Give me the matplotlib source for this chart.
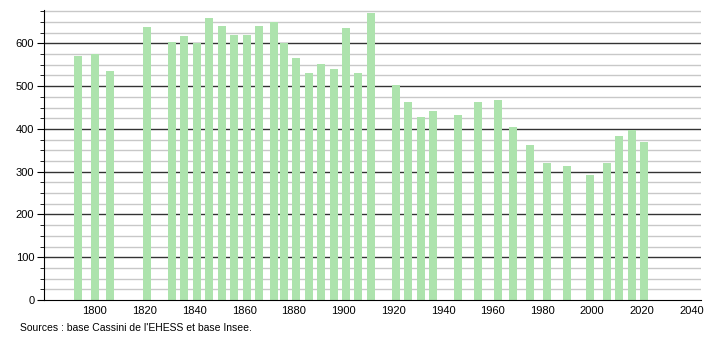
import matplotlib
matplotlib.use("Agg")
import matplotlib.pyplot as plt
from matplotlib.ticker import MultipleLocator

years = [1793, 1800, 1806, 1821, 1831, 1836, 1841, 1846, 1851, 1856, 1861, 1866,
         1872, 1876, 1881, 1886, 1891, 1896, 1901, 1906, 1911, 1921, 1926, 1931,
         1936, 1946, 1954, 1962, 1968, 1975, 1982, 1990, 1999, 2006, 2011, 2016, 2021]
population = [570, 576, 535, 638, 603, 617, 601, 659, 640, 620, 620, 640,
              651, 600, 566, 531, 552, 540, 636, 531, 672, 502, 463, 428,
              442, 432, 463, 468, 404, 362, 320, 313, 292, 320, 383, 397, 369]
xticks = [1800, 1820, 1840, 1860, 1880, 1900, 1920, 1940, 1960, 1980, 2000, 2020, 2040]
yticks = [0, 100, 200, 300, 400, 500, 600]
source = "Sources : base Cassini de l'EHESS et base Insee."

plt.rcParams['font.family'] = ['Liberation Sans', 'DejaVu Sans']

fig = plt.figure(figsize=(7.1, 3.4), dpi=100)
ax = fig.add_axes([44/710, 40/340, (701-44)/710, (300-10)/340])

ax.set_xlim(1779.5, 2043.8)
ax.set_ylim(0, 678)

# gridlines
for v in range(25, 700, 25):
    if v % 100 == 0:
        ax.axhline(v, color='#333333', lw=1.0, zorder=1)
    else:
        ax.axhline(v, color='#c8c8c8', lw=1.0, zorder=1)

ax.bar(years, population, width=3.2, color='#ade3ad', zorder=2)

ax.set_xticks(xticks)
ax.set_yticks(yticks)
ax.yaxis.set_minor_locator(MultipleLocator(25))
ax.tick_params(axis='x', length=0, labelsize=8, pad=4)
ax.tick_params(axis='y', which='major', length=5, labelsize=8, pad=2)
ax.tick_params(axis='y', which='minor', length=3)

for s in ['top', 'right']:
    ax.spines[s].set_visible(False)
ax.spines['left'].set_color('black')
ax.spines['bottom'].set_color('black')
ax.spines['left'].set_zorder(3)
ax.spines['bottom'].set_zorder(3)

fig.text(20/710, 1 - 328/340, source, fontsize=7.5, va='center', ha='left')

fig.savefig("out.png", dpi=100)
